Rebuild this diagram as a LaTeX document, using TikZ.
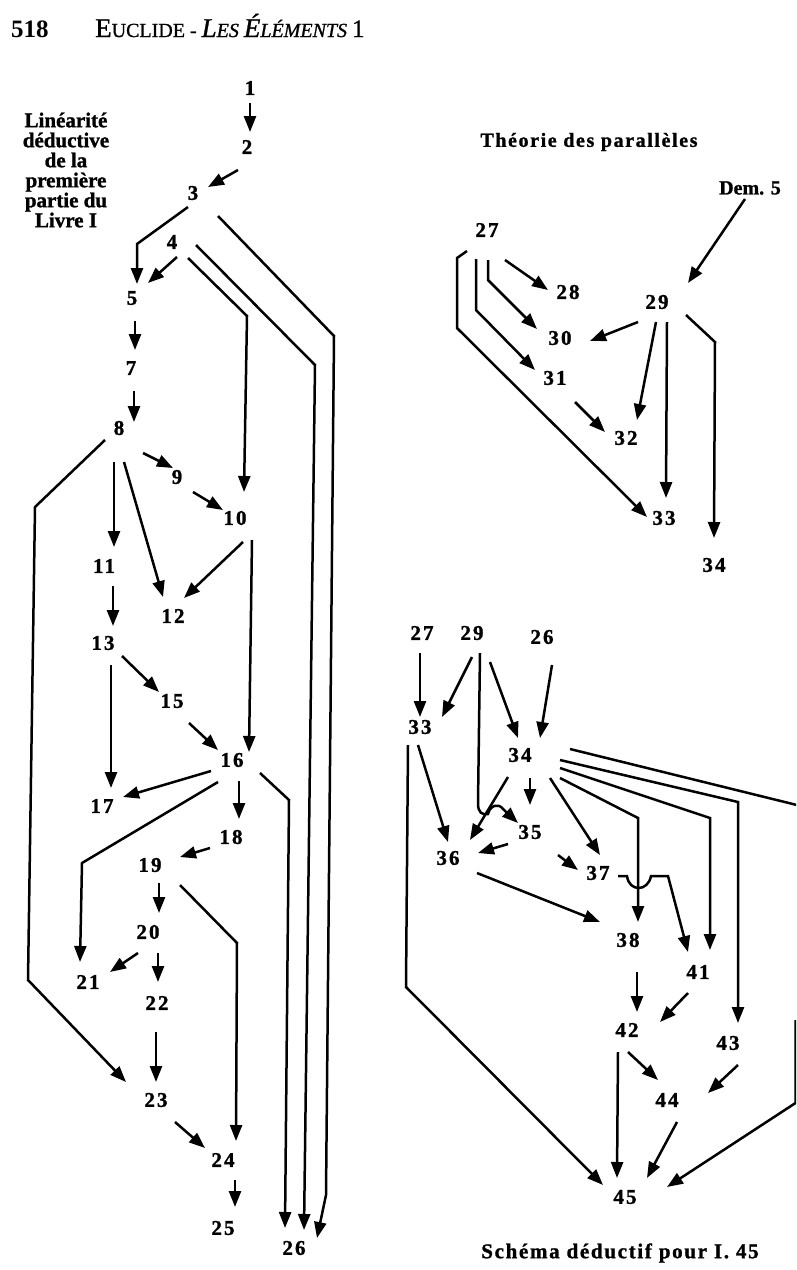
\documentclass[tikz,border=0pt]{standalone}
\usepackage{fontspec}
\setmainfont{Liberation Serif}
\usetikzlibrary{arrows.meta,calc}
\tikzset{
  num/.style={font=\bfseries\fontsize{21}{21}\selectfont\addfontfeature{LetterSpace=10,FakeBold=1.2}, inner sep=0pt},
  ttl/.style={font=\bfseries\fontsize{21}{20}\selectfont\addfontfeature{FakeBold=1.2}, inner sep=0pt},
  arr/.style={line width=2.5pt, -{Triangle[length=16pt,width=12pt]}},
  ln/.style={line width=2.5pt}
}
\begin{document}
\begin{tikzpicture}[x=1pt,y=-1pt]
\useasboundingbox (0,0) rectangle (796,1270);
\fill[white] (0,0) rectangle (796,1270);
\clip (0,0) rectangle (796,1270);

% header
\node[anchor=base west, inner sep=0pt] (pg) at (11,37) {\bfseries\fontsize{25}{25}\selectfont 518};
\node[anchor=base west, inner sep=0pt] (hd) at (95,37) {\addfontfeature{FakeBold=1}\fontsize{27}{27}\selectfont E\fontsize{20}{20}\selectfont UCLIDE - \itshape\fontsize{27}{27}\selectfont L\fontsize{20}{20}\selectfont ES \fontsize{27}{27}\selectfont É\fontsize{20}{20}\selectfont LÉMENTS \upshape\fontsize{25}{25}\selectfont 1};

% titles
\node[ttl, align=center] (tl) at (66,170) {Linéarité\\déductive\\de la\\première\\partie du\\Livre I};
\node[ttl, font=\bfseries\fontsize{20}{20}\selectfont\addfontfeature{LetterSpace=8,FakeBold=1.2}] (tp) at (589,142) {Théorie des parallèles};
\node[ttl, font=\bfseries\fontsize{21}{20}\selectfont\addfontfeature{LetterSpace=8,FakeBold=1.2}] (tc) at (620,1253) {Schéma déductif pour I. 45};

% left nodes
\node[num] (n1) at (250,88) {1};
\node[num] (n2) at (247,147) {2};
\node[num] (n3) at (193,193) {3};
\node[num] (n4) at (172,242) {4};
\node[num] (n5) at (132,298) {5};
\node[num] (n7) at (131,368) {7};
\node[num] (n8) at (119,428) {8};
\node[num] (n9) at (177,477) {9};
\node[num] (n10) at (235,518) {10};
\node[num] (n11) at (104,566) {11};
\node[num] (n12) at (173,616) {12};
\node[num] (n13) at (103,643) {13};
\node[num] (n15) at (172,701) {15};
\node[num] (n16) at (232,760) {16};
\node[num] (n17) at (102,806) {17};
\node[num] (n18) at (231,837) {18};
\node[num] (n19) at (150,865) {19};
\node[num] (n20) at (148,932) {20};
\node[num] (n21) at (88,982) {21};
\node[num] (n22) at (157,1003) {22};
\node[num] (n23) at (156,1100) {23};
\node[num] (n24) at (223,1160) {24};
\node[num] (n25) at (223,1228) {25};
\node[num] (n26) at (294,1248) {26};

% left connectors
\draw[arr] ($(n1)+(0,15)$) -- ($(n2)+(3,-15)$);
\draw[arr] ($(n2)+(-9,23)$) -- ($(n3)+(15,-6)$);
\draw[arr] ($(n3)+(-5,14)$) -- (137,244) -- ($(n5)+(5,-14)$);
\draw[arr] ($(n4)+(5,15)$) -- ($(n5)+(16,-15)$);
\draw[arr] ($(n3)+(25,23)$) -- (334,336) -- (326,1195) -- ($(n26)+(23,-10)$);
\draw[arr] ($(n4)+(24,3)$) -- (315,365) -- ($(n26)+(10,-18)$);
\draw[arr] ($(n4)+(16,16)$) -- (247,316) -- ($(n10)+(9,-26)$);
\draw[arr] ($(n16)+(28,13)$) -- (289,800) -- ($(n26)+(-9,-20)$);
\draw[arr] ($(n5)+(3,23)$) -- ($(n7)+(4,-18)$);
\draw[arr] ($(n7)+(3,23)$) -- ($(n8)+(15,-6)$);
\draw[arr] ($(n8)+(24,25)$) -- ($(n9)+(-4,-9)$);
\draw[arr] ($(n9)+(16,15)$) -- ($(n10)+(-12,-8)$);
\draw[arr] ($(n8)+(-5,34)$) -- ($(n11)+(10,-19)$);
\draw[arr] ($(n8)+(5,34)$) -- ($(n12)+(-10,-19)$);
\draw[arr] ($(n10)+(8,24)$) -- ($(n12)+(11,-18)$);
\draw[arr] ($(n10)+(17,22)$) -- ($(n16)+(17,-8)$);
\draw[arr] ($(n11)+(9,20)$) -- ($(n13)+(10,-17)$);
\draw[arr] ($(n13)+(19,13)$) -- ($(n15)+(-13,-9)$);
\draw[arr] ($(n15)+(17,22)$) -- ($(n16)+(-14,-10)$);
\draw[arr] ($(n13)+(8,22)$) -- ($(n17)+(9,-18)$);
\draw[arr] ($(n16)+(-21,11)$) -- ($(n17)+(21,-9)$);
\draw[arr] ($(n16)+(7,21)$) -- ($(n18)+(8,-18)$);
\draw[arr] ($(n8)+(-14,12)$) -- (35,507) -- (28,980) -- ($(n23)+(-30,-18)$);
\draw[arr] ($(n16)+(-14,22)$) -- (82,863) -- ($(n21)+(-8,-20)$);
\draw[arr] ($(n18)+(-21,11)$) -- ($(n19)+(30,-8)$);
\draw[arr] ($(n19)+(9,18)$) -- ($(n20)+(11,-19)$);
\draw[arr] ($(n19)+(30,20)$) -- (237,943) -- ($(n24)+(13,-19)$);
\draw[arr] ($(n20)+(-10,21)$) -- ($(n21)+(22,-10)$);
\draw[arr] ($(n20)+(10,21)$) -- ($(n22)+(1,-21)$);
\draw[arr] ($(n22)+(-1,29)$) -- ($(n23)+(0,-18)$);
\draw[arr] ($(n23)+(19,22)$) -- ($(n24)+(-18,-12)$);
\draw[arr] ($(n24)+(12,20)$) -- ($(n25)+(12,-21)$);

% right-top nodes
\node[num, font=\bfseries\fontsize{20}{20}\selectfont\addfontfeature{FakeBold=1.2}] (d5) at (750,188) {Dem. 5};
\node[num] (a27) at (487,230) {27};
\node[num] (a28) at (568,292) {28};
\node[num] (a29) at (657,302) {29};
\node[num] (a30) at (560,338) {30};
\node[num] (a31) at (555,378) {31};
\node[num] (a32) at (626,438) {32};
\node[num] (a33) at (664,518) {33};
\node[num] (a34) at (714,565) {34};

\draw[arr] ($(d5)+(-5,11)$) -- ($(a29)+(31,-19)$);
\draw[arr] ($(a27)+(18,30)$) -- ($(a28)+(-20,-2)$);
\draw[arr] ($(a27)+(1,30)$) -- (488,280) -- ($(a30)+(-23,-9)$);
\draw[arr] ($(a27)+(-11,29)$) -- (476,310) -- ($(a31)+(-20,-8)$);
\draw[arr] ($(a27)+(-20,21)$) -- (457,258) -- (457,328) -- ($(a33)+(-17,-1)$);
\draw[arr] ($(a29)+(-19,20)$) -- ($(a30)+(30,3)$);
\draw[arr] ($(a29)+(-1,20)$) -- ($(a32)+(11,-18)$);
\draw[arr] ($(a29)+(10,20)$) -- ($(a33)+(2,-20)$);
\draw[arr] ($(a29)+(29,13)$) -- (715,342) -- ($(a34)+(0,-27)$);
\draw[arr] ($(a31)+(20,24)$) -- ($(a32)+(-21,-6)$);

% right-bottom nodes
\node[num] (b27) at (422,633) {27};
\node[num] (b29) at (472,633) {29};
\node[num] (b26) at (542,637) {26};
\node[num] (b33) at (420,727) {33};
\node[num] (b34) at (520,755) {34};
\node[num] (b35) at (530,832) {35};
\node[num] (b36) at (448,858) {36};
\node[num] (b37) at (598,873) {37};
\node[num] (b38) at (628,940) {38};
\node[num] (b41) at (698,972) {41};
\node[num] (b42) at (627,1030) {42};
\node[num] (b43) at (728,1043) {43};
\node[num] (b44) at (667,1100) {44};
\node[num] (b45) at (625,1197) {45};

\draw[arr] ($(b27)+(-2,20)$) -- ($(b33)+(0,-10)$);
\draw[arr] ($(b29)+(0,24)$) -- ($(b33)+(22,-10)$);
\draw[arr] ($(b29)+(8,20)$) -- (478,803) .. controls (478,813) and (482,815) .. (488,814) .. controls (490,805) and (499,803) .. (503,809) -- ($(b35)+(-12,-9)$);
\draw[arr] ($(b29)+(18,29)$) -- ($(b34)+(-2,-17)$);
\draw[arr] ($(b26)+(10,28)$) -- ($(b34)+(20,-17)$);
\draw[arr] ($(b33)+(-2,18)$) -- ($(b36)+(0,-16)$);
\draw[arr] ($(b33)+(-12,18)$) -- (406,987) -- ($(b45)+(-22,-12)$);
\draw[arr] ($(b34)+(-12,22)$) -- ($(b36)+(22,-18)$);
\draw[arr] ($(b34)+(10,23)$) -- ($(b35)+(0,-27)$);
\draw[arr] ($(b35)+(-22,12)$) -- ($(b36)+(30,-5)$);
\draw[arr] ($(b34)+(30,23)$) -- ($(b37)+(2,-18)$);
\draw[arr] ($(b35)+(28,23)$) -- ($(b37)+(-20,-3)$);
\draw[arr] ($(b36)+(29,15)$) -- ($(b38)+(-28,-18)$);
\draw[arr] ($(b34)+(40,23)$) -- (638,818) -- ($(b38)+(10,-18)$);
\draw[arr] ($(b37)+(20,3)$) -- (627,876) .. controls (629,892) and (648,892) .. (651,876) -- (668,876) -- ($(b41)+(-10,-20)$);
\draw[arr] ($(b34)+(40,13)$) -- (710,818) -- ($(b41)+(12,-22)$);
\draw[arr] ($(b34)+(40,5)$) -- (738,802) -- ($(b43)+(10,-20)$);
\coordinate (offA) at (805,807);
\coordinate (offB) at (795.5,1020);
\draw[ln] ($(b34)+(50,-6)$) -- (offA);
\draw[arr] (offB) -- (795.5,1103) -- ($(b45)+(42,-10)$);
\draw[arr] ($(b38)+(9,32)$) -- ($(b42)+(10,-18)$);
\draw[arr] ($(b41)+(-10,21)$) -- ($(b42)+(33,-8)$);
\draw[arr] ($(b42)+(1,22)$) -- ($(b44)+(-9,-20)$);
\draw[arr] ($(b43)+(10,22)$) -- ($(b44)+(41,-7)$);
\draw[arr] ($(b42)+(-9,22)$) -- ($(b45)+(-8,-19)$);
\draw[arr] ($(b44)+(10,22)$) -- ($(b45)+(22,-19)$);
\end{tikzpicture}
\end{document}
